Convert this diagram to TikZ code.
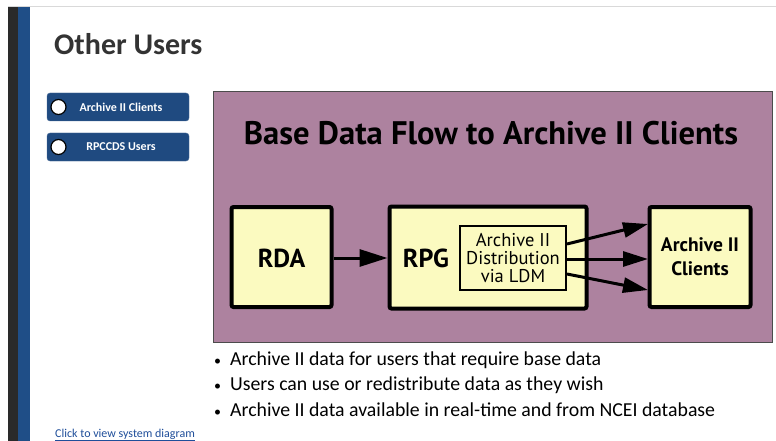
\documentclass[tikz,border=0pt]{standalone}
\usepackage{fontspec}
\setmainfont{Carlito}
\newfontfamily\myr{PT Sans}
\usetikzlibrary{arrows.meta}
\definecolor{navy}{HTML}{1F4A80}
\definecolor{barblue}{HTML}{1F4E87}
\definecolor{bardark}{HTML}{2A2A2A}
\definecolor{plum}{HTML}{AD829F}
\definecolor{paleyel}{HTML}{FBFAC0}
\definecolor{titlegray}{HTML}{333333}
\definecolor{linkblue}{HTML}{1F4E9A}
\tikzset{
  btn/.style={fill=navy, draw=navy!80!white, rounded corners=3pt, minimum width=142pt, minimum height=28pt, inner sep=0pt},
  btntext/.style={text=white, font=\bfseries\fontsize{12}{14}\selectfont, inner sep=0pt},
  dot/.style={circle, fill=white, draw=black, line width=1.2pt, minimum size=15pt, inner sep=0pt},
  flowbox/.style={fill=paleyel, draw=black, line width=4pt, rounded corners=2pt, inner sep=0pt},
  innerbox/.style={fill=paleyel, draw=black, line width=2pt, inner sep=0pt, minimum width=106pt, minimum height=64pt},
  flow/.style={draw=black, line width=3pt, -{Triangle[length=28pt,width=17pt]}},
  flowb/.style={draw=black, line width=3pt, -{Triangle[length=25pt,width=15pt]}},
  bullet/.style={anchor=west, inner sep=0pt, font=\fontsize{19.8}{22}\selectfont, text=black}
}
\begin{document}
\begin{tikzpicture}[x=1pt,y=-1pt]
\useasboundingbox (0,0) rectangle (776,441);
\fill[white] (0,0) rectangle (776,441);
% frame
\draw[gray!30, line width=1pt] (8,6.5) -- (776,6.5);
\fill[bardark] (8,7) rectangle (18,441);
\fill[barblue] (18,7) rectangle (30,441);
% title
\node[anchor=base west, inner sep=0pt, text=titlegray, font=\bfseries\fontsize{30}{34}\selectfont] (title) at (54,55) {Other Users};
% buttons
\node[btn] (b1) at (118,107) {};
\node[btntext] (b1t) at (121,107) {Archive II Clients};
\node[dot] (d1) at (58.5,107) {};
\node[btn] (b2) at (118,147) {};
\node[btntext] (b2t) at (121,147) {RPCCDS Users};
\node[dot] (d2) at (58.5,147) {};
% purple panel
\node[fill=plum, draw=black!70, line width=1pt, minimum width=559pt, minimum height=250pt, inner sep=0pt] (panel) at (492.5,217) {};
\node[inner sep=0pt, font=\myr\bfseries] (ptitle) at (491,133) {\resizebox{494pt}{!}{Base Data Flow to Archive II Clients}};
% boxes
\node[flowbox, minimum width=100pt, minimum height=100pt] (rda) at (281.5,257) {};
\node[font=\myr\bfseries\fontsize{26}{28}\selectfont, inner sep=0pt] (rdat) at (281.5,258) {RDA};
\node[flowbox, minimum width=197pt, minimum height=102pt] (rpg) at (488,257.5) {};
\node[font=\myr\bfseries\fontsize{26}{28}\selectfont, inner sep=0pt] (rpgt) at (426,258) {RPG};
\node[innerbox] (ldm) at (513,258) {};
\node[font=\myr\fontsize{18.5}{18}\selectfont, align=center, inner sep=0pt] (ldmt) at (513,258) {Archive II\\Distribution\\via LDM};
\node[flowbox, minimum width=101pt, minimum height=100pt] (cli) at (700,257) {};
\node[font=\myr\bfseries\fontsize{19.5}{24}\selectfont, align=center, inner sep=0pt] (clit) at (700,257) {Archive II\\Clients};
% arrows
\draw[flow] (rda.east) ++(0,1) coordinate (a0) -- (rpg.west |- a0);
\coordinate (s1) at (567,244);
\coordinate (e1) at (648,224);
\coordinate (s2) at (567,259);
\coordinate (e2) at (648,259);
\coordinate (s3) at (567,274);
\coordinate (e3) at (648,290);
\draw[flowb] (s1) -- (e1);
\draw[flowb] (s2) -- (e2);
\draw[flowb] (s3) -- (e3);
% bullets
\node[bullet] (l1) at (214,360) {{\fontsize{14}{16}\selectfont\textbullet}\hspace{9pt}Archive II data for users that require base data};
\node[bullet] (l2) at (214,385) {{\fontsize{14}{16}\selectfont\textbullet}\hspace{9pt}Users can use or redistribute data as they wish};
\node[bullet] (l3) at (214,410) {{\fontsize{14}{16}\selectfont\textbullet}\hspace{9pt}Archive II data available in real-time and from NCEI database};
% link
\node[anchor=base west, inner sep=0pt, text=linkblue, font=\fontsize{12}{14}\selectfont] (link) at (55,437) {\underline{Click to view system diagram}};
\end{tikzpicture}
\end{document}
